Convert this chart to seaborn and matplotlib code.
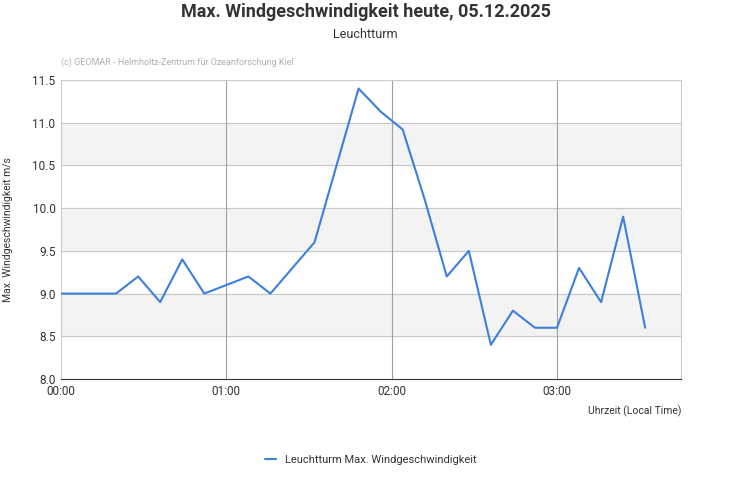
import matplotlib
matplotlib.use("Agg")
import matplotlib.pyplot as plt
import seaborn as sns
import pandas as pd

sns.set_theme(style="white")
plt.rcParams['font.family'] = ['Roboto', 'DejaVu Sans']

minutes = [0, 8, 16, 20, 28, 36, 44, 52, 60, 68, 76, 92, 108, 116, 124, 132,
           140, 148, 156, 164, 172, 180, 188, 196, 204, 212]
speed = [9.0, 9.0, 9.0, 9.0, 9.2, 8.9, 9.4, 9.0, 9.1, 9.2, 9.0, 9.6, 11.4, 11.13, 10.92, 10.1,
         9.2, 9.5, 8.4, 8.8, 8.6, 8.6, 9.3, 8.9, 9.9, 8.6]
hour_ticks = [0, 60, 120, 180]
hour_labels = ["00:00", "01:00", "02:00", "03:00"]
df = pd.DataFrame({"min": minutes, "speed": speed})

fig = plt.figure(figsize=(7.31, 5.0), dpi=100)
ax = fig.add_axes([61/731, 1-379/500, 620/731, 299/500])

for lo in [8.5, 9.5, 10.5]:
    ax.axhspan(lo, lo + 0.5, color="#f3f3f3", zorder=0)
for y in [8.5, 9.0, 9.5, 10.0, 10.5, 11.0, 11.5]:
    ax.axhline(y, color="#c8c8c8", lw=0.8, zorder=1)
for x in hour_ticks[1:]:
    ax.axvline(x, color="#a0a0a0", lw=0.8, zorder=1)

sns.lineplot(data=df, x="min", y="speed", ax=ax, color="#3c7fdd", lw=1.5,
             label="Leuchtturm Max. Windgeschwindigkeit", zorder=3)

ax.set_xlim(0, 225)
ax.set_ylim(8.0, 11.5)
ax.set_xticks(hour_ticks)
ax.set_xticklabels(hour_labels)
ax.set_yticks([8.0, 8.5, 9.0, 9.5, 10.0, 10.5, 11.0, 11.5])
ax.set_yticklabels([f"{v:.1f}" for v in [8.0, 8.5, 9.0, 9.5, 10.0, 10.5, 11.0, 11.5]])
ax.tick_params(labelsize=8.5, colors="#333333", length=0, pad=4)
for s in ax.spines.values():
    s.set_color("#cccccc")
    s.set_linewidth(0.8)
ax.spines["bottom"].set_color("#333333")
ax.set_xlabel("")
ax.set_ylabel("Max. Windgeschwindigkeit m/s", fontsize=7.5, color="#333333", labelpad=14)
ax.text(1.0, -0.09, "Uhrzeit (Local Time)", transform=ax.transAxes, ha="right",
        va="top", fontsize=7.5, color="#333333")
ax.text(0.0, 1.06, "(c) GEOMAR - Helmholtz-Zentrum für Ozeanforschung Kiel",
        transform=ax.transAxes, fontsize=6.5, color="#b0b0b0", va="center")

fig.text(0.5, 1-12/500, "Max. Windgeschwindigkeit heute, 05.12.2025", ha="center",
         va="center", fontsize=13, fontweight="bold", color="#333333")
fig.text(0.5, 1-34/500, "Leuchtturm", ha="center", va="center", fontsize=9, color="#333333")

ax.legend(loc="upper center", bbox_to_anchor=(0.5, -0.22), frameon=False,
          fontsize=8, handlelength=1.0, labelcolor="#333333")

fig.savefig("out.png", dpi=100)
